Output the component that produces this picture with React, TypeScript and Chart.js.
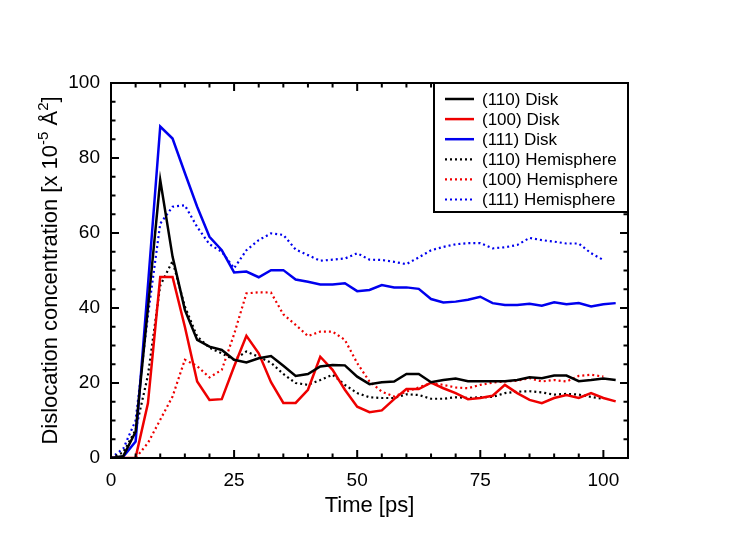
import { useEffect, useRef } from "react";
import { Chart, ChartConfiguration, Plugin, registerables } from "chart.js";

Chart.register(...registerables);

// sampling times [ps]
const diskTimes = [
  0, 2.5, 5, 7.5, 10, 12.5, 15, 17.5, 20, 22.5, 25, 27.5, 30, 32.5, 35, 37.5, 40, 42.5, 45, 47.5, 50,
  52.5, 55, 57.5, 60, 62.5, 65, 67.5, 70, 72.5, 75, 77.5, 80, 82.5, 85, 87.5, 90, 92.5, 95, 97.5, 100,
  102.5,
];
const hemiTimes = [
  0, 2.5, 5, 7.5, 10, 12.5, 15, 17.5, 20, 22.5, 25, 27.5, 30, 32.5, 35, 37.5, 40, 42.5, 45, 47.5, 50,
  52.5, 55, 57.5, 60, 62.5, 65, 67.5, 70, 72.5, 75, 77.5, 80, 82.5, 85, 87.5, 90, 92.5, 95, 97.5, 100,
];

// dislocation concentration [x 10^-5 Å^2]
const disk110 = [
  0, 0.5, 7, 40, 74.1, 53.7, 39.5, 31.5, 29.7, 28.8, 26.2, 25.5, 26.6, 27.2, 24.6, 21.9, 22.4, 24.4,
  24.8, 24.7, 21.7, 19.7, 20.2, 20.4, 22.4, 22.4, 20.2, 20.8, 21.2, 20.5, 20.5, 20.5, 20.5, 20.8, 21.5,
  21.3, 22.0, 22.0, 20.5, 20.8, 21.2, 20.8,
];
const disk100 = [
  0, 0, 0.1, 14.6, 48.3, 48.3, 35, 20.4, 15.5, 15.7, 24.4, 32.6, 27.9, 20.2, 14.7, 14.7, 18.2, 27,
  23.5, 18.2, 13.7, 12.2, 12.7, 15.7, 18.4, 18.4, 20.1, 18.6, 17.3, 15.7, 16.0, 16.6, 19.5, 17.3, 15.5,
  14.6, 16.0, 16.8, 16.0, 17.3, 16.0, 15.1,
];
const disk111 = [
  0, 0.4, 4.4, 46, 88.4, 85.2, 76, 67, 59, 55.4, 49.5, 49.7, 48.2, 50.1, 50.1, 47.6, 47.0, 46.3, 46.3,
  46.6, 44.5, 44.8, 46.1, 45.5, 45.5, 45.1, 42.4, 41.5, 41.7, 42.2, 43.0, 41.3, 40.8, 40.8, 41.1, 40.6,
  41.5, 41.0, 41.3, 40.4, 41.0, 41.3,
];
const hemi110 = [
  0, 1.5, 7.5, 22, 46, 52.5, 40.4, 32.4, 29.4, 27.9, 26.2, 28.4, 27, 25.4, 22.4, 20.0, 19.5, 20.8, 22.2,
  19.5, 17.3, 16.2, 16.0, 16.0, 17.0, 16.8, 15.8, 15.8, 16.2, 16.0, 16.2, 16.3, 17.3, 17.7, 17.8, 17.5,
  16.9, 17.1, 16.9, 16.3, 15.8,
];
const hemi100 = [
  0, 0, 0, 4, 10.2, 16.4, 26.2, 24.5, 21.5, 23.5, 33, 43.9, 44.2, 44.1, 38.3, 35.5, 32.5, 33.7, 33.7,
  31.5, 25.3, 20.4, 17.7, 16.4, 17.7, 18.8, 20.0, 19.5, 18.8, 18.6, 19.5, 20.1, 20.4, 20.6, 21.3, 20.4,
  20.8, 20.4, 21.9, 22.2, 21.7,
];
const hemi111 = [
  0, 2.5, 10, 38, 62.5, 67, 67.4, 61.6, 57, 55, 50.6, 55.4, 58.1, 59.9, 59.5, 55.6, 54.1, 52.6, 52.9,
  53.2, 54.6, 52.9, 52.8, 52.3, 51.7, 53.5, 55.4, 56.3, 57.0, 57.3, 57.3, 55.9, 56.2, 56.8, 58.7, 58.1,
  57.7, 57.2, 57.2, 54.6, 52.8,
];

const xMajor = [0, 25, 50, 75, 100];
const yMajor = [0, 20, 40, 60, 80, 100];

const FONT = '"Liberation Sans", Arial, Helvetica, sans-serif';
const BLACK = "#000000";
const RED = "#ee0000";
const BLUE = "#0000ee";

function toPoints(xs: number[], ys: number[]) {
  return ys.map((y, i) => ({ x: xs[i], y }));
}

function solid(label: string, color: string, xs: number[], ys: number[]) {
  return {
    label,
    data: toPoints(xs, ys),
    borderColor: color,
    backgroundColor: color,
    borderWidth: 2.5,
    pointRadius: 0,
    tension: 0,
    fill: false,
  };
}

function dotted(label: string, color: string, xs: number[], ys: number[]) {
  return { ...solid(label, color, xs, ys), borderWidth: 2.2, borderDash: [2, 3] };
}

// frame, inward ticks, legend box and axis titles
const framePlugin: Plugin = {
  id: "frame",
  afterDraw(chart) {
    const { ctx, chartArea: a } = chart;
    const xs = chart.scales.x;
    const ys = chart.scales.y;
    ctx.save();
    ctx.strokeStyle = BLACK;
    ctx.lineWidth = 2;
    ctx.setLineDash([]);

    ctx.beginPath();
    for (let v = 5; v < 105; v += 5) {
      const len = xMajor.includes(v) ? 8 : 4.5;
      const px = xs.getPixelForValue(v);
      ctx.moveTo(px, a.bottom);
      ctx.lineTo(px, a.bottom - len);
      ctx.moveTo(px, a.top);
      ctx.lineTo(px, a.top + len);
    }
    for (let v = 5; v < 100; v += 5) {
      const len = yMajor.includes(v) ? 8 : 4.5;
      const py = ys.getPixelForValue(v);
      ctx.moveTo(a.left, py);
      ctx.lineTo(a.left + len, py);
      ctx.moveTo(a.right, py);
      ctx.lineTo(a.right - len, py);
    }
    ctx.stroke();

    // legend
    const lw = 194;
    const lh = 129;
    const lx = a.right - lw;
    const ly = a.top;
    ctx.fillStyle = "#ffffff";
    ctx.fillRect(lx, ly, lw, lh);
    ctx.strokeRect(lx, ly, lw, lh);
    ctx.font = `17px ${FONT}`;
    ctx.textBaseline = "middle";
    ctx.textAlign = "left";
    chart.data.datasets.forEach((ds: any, i) => {
      const ry = ly + 16 + i * 20.1;
      ctx.beginPath();
      ctx.strokeStyle = ds.borderColor;
      ctx.lineWidth = ds.borderWidth;
      ctx.setLineDash(ds.borderDash || []);
      ctx.moveTo(lx + 11, ry);
      ctx.lineTo(lx + 40, ry);
      ctx.stroke();
      ctx.setLineDash([]);
      ctx.fillStyle = BLACK;
      ctx.fillText(ds.label, lx + 48, ry + 1);
    });

    ctx.strokeStyle = BLACK;
    ctx.lineWidth = 2;
    ctx.strokeRect(a.left, a.top, a.right - a.left, a.bottom - a.top);

    // x title
    ctx.fillStyle = BLACK;
    ctx.font = `22px ${FONT}`;
    ctx.textAlign = "center";
    ctx.textBaseline = "alphabetic";
    ctx.fillText("Time [ps]", (a.left + a.right) / 2, a.bottom + 53.5);

    // y title with superscripts
    const parts: [string, boolean][] = [
      ["Dislocation concentration [x 10", false],
      ["-5", true],
      [" Å", false],
      ["2", true],
      ["]", false],
    ];
    const big = `22px ${FONT}`;
    const small = `15px ${FONT}`;
    let total = 0;
    parts.forEach(([t, sup]) => {
      ctx.font = sup ? small : big;
      total += ctx.measureText(t).width;
    });
    ctx.translate(a.left - 54.5, (a.top + a.bottom) / 2);
    ctx.rotate(-Math.PI / 2);
    ctx.textAlign = "left";
    let cx = -total / 2;
    parts.forEach(([t, sup]) => {
      ctx.font = sup ? small : big;
      ctx.fillText(t, cx, sup ? -9 : 0);
      cx += ctx.measureText(t).width;
    });
    ctx.restore();
  },
};

export default function App() {
  const canvasRef = useRef<HTMLCanvasElement>(null);

  useEffect(() => {
    if (!canvasRef.current) return;
    const config: ChartConfiguration<"line"> = {
      type: "line",
      data: {
        datasets: [
          solid("(110) Disk", BLACK, diskTimes, disk110),
          solid("(100) Disk", RED, diskTimes, disk100),
          solid("(111) Disk", BLUE, diskTimes, disk111),
          dotted("(110) Hemisphere", BLACK, hemiTimes, hemi110),
          dotted("(100) Hemisphere", RED, hemiTimes, hemi100),
          dotted("(111) Hemisphere", BLUE, hemiTimes, hemi111),
        ],
      },
      options: {
        responsive: false,
        animation: false,
        events: [],
        layout: { padding: { top: 83, right: 112, left: 0, bottom: 0 } },
        plugins: { legend: { display: false }, tooltip: { enabled: false } },
        scales: {
          x: {
            type: "linear",
            min: 0,
            max: 105,
            afterFit: (scale) => {
              scale.height = 83;
            },
            afterBuildTicks: (scale) => {
              scale.ticks = xMajor.map((value) => ({ value }));
            },
            grid: { display: false, drawTicks: false },
            border: { display: false },
            ticks: { padding: 11, color: BLACK, font: { family: FONT, size: 19 }, maxRotation: 0 },
          },
          y: {
            type: "linear",
            min: 0,
            max: 100,
            afterFit: (scale) => {
              scale.width = 111;
            },
            afterBuildTicks: (scale) => {
              scale.ticks = yMajor.map((value) => ({ value }));
            },
            grid: { display: false, drawTicks: false },
            border: { display: false },
            ticks: { padding: 11, color: BLACK, font: { family: FONT, size: 19 } },
          },
        },
      },
      plugins: [framePlugin],
    };
    const chart = new Chart(canvasRef.current, config);
    return () => chart.destroy();
  }, []);

  return (
    <div style={{ position: "fixed", left: 0, top: 0, width: 740, height: 541, background: "#fff" }}>
      <canvas ref={canvasRef} width={740} height={541} />
    </div>
  );
}
